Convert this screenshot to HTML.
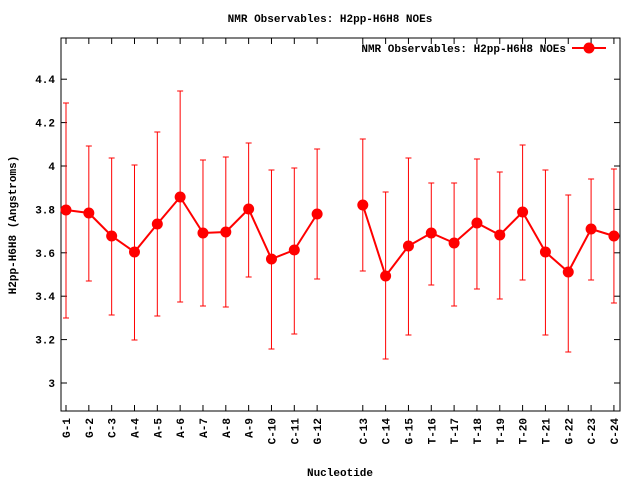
<!DOCTYPE html>
<html><head><style>
html,body{margin:0;padding:0;background:#fff;}
svg text{font-family:"Liberation Mono","DejaVu Sans Mono",monospace;font-weight:bold;font-size:11px;fill:#000;}
</style></head><body>
<svg width="640" height="480" xmlns="http://www.w3.org/2000/svg" id="s">
<rect width="640" height="480" fill="#fff"/>
<text x="330" y="22" text-anchor="middle">NMR Observables: H2pp-H6H8 NOEs</text>
<text x="340" y="476" text-anchor="middle">Nucleotide</text>
<text transform="translate(16,225) rotate(-90)" text-anchor="middle">H2pp-H6H8 (Angstroms)</text>
<g id="ax"></g>
<g id="data"></g>
<text x="566" y="52" text-anchor="end">NMR Observables: H2pp-H6H8 NOEs</text>
<line x1="572" y1="48" x2="606" y2="48" stroke="#f00" stroke-width="2"/>
<circle cx="589" cy="48" r="5.5" fill="#f00"/>
</svg>
<script>
var L=61,R=620,T=38,B=411;
var ns="http://www.w3.org/2000/svg";
function el(p,t,a,txt){var e=document.createElementNS(ns,t);for(var k in a)e.setAttribute(k,a[k]);if(txt)e.textContent=txt;p.appendChild(e);return e;}
var ax=document.getElementById('ax'),dg=document.getElementById('data');
el(ax,'rect',{x:L,y:T,width:R-L,height:B-T,fill:'none',stroke:'#000','stroke-width':1});
function Y(v){return 383-(v-3)*217;}
[3,3.2,3.4,3.6,3.8,4,4.2,4.4].forEach(function(v){var y=Y(v);
el(ax,'line',{x1:L,y1:y,x2:L+6,y2:y,stroke:'#000'});el(ax,'line',{x1:R-6,y1:y,x2:R,y2:y,stroke:'#000'});
el(ax,'text',{x:55,y:y+4,'text-anchor':'end'},(Math.round(v*10)/10).toString());});
var labs=["G-1","G-2","C-3","A-4","A-5","A-6","A-7","A-8","A-9","C-10","C-11","G-12","","C-13","C-14","G-15","T-16","T-17","T-18","T-19","T-20","T-21","G-22","C-23","C-24"];
var v=[210,213,236,252,224,197,233,232,209,259,250,214,null,205,276,246,233,243,223,235,212,252,272,229,236];
var hi=[103,146,158,165,132,91,160,157,143,170,168,149,null,139,192,158,183,183,159,172,145,170,195,179,169];
var lo=[318,281,315,340,316,302,306,307,277,349,334,279,null,271,359,335,285,306,289,299,280,335,352,280,303];
function X(i){return 66+i*22.83;}
labs.forEach(function(l,i){if(!l)return;var x=X(i);
el(ax,'line',{x1:x,y1:B,x2:x,y2:B-6,stroke:'#000'});el(ax,'line',{x1:x,y1:T,x2:x,y2:T+6,stroke:'#000'});
el(ax,'text',{transform:'translate('+(x+4)+',418) rotate(-90)','text-anchor':'end'},l);});
for(var i=0;i<v.length;i++){if(v[i]==null)continue;var x=X(i);
el(dg,'line',{x1:x,y1:hi[i],x2:x,y2:lo[i],stroke:'#f00'});
el(dg,'line',{x1:x-3,y1:hi[i],x2:x+3,y2:hi[i],stroke:'#f00'});
el(dg,'line',{x1:x-3,y1:lo[i],x2:x+3,y2:lo[i],stroke:'#f00'});}
var p1=[],p2=[];
for(var i=0;i<v.length;i++){if(v[i]==null)continue;(i<12?p1:p2).push(X(i)+','+v[i]);}
[p1,p2].forEach(function(p){el(dg,'polyline',{points:p.join(' '),fill:'none',stroke:'#f00','stroke-width':2});});
for(var i=0;i<v.length;i++){if(v[i]==null)continue;el(dg,'circle',{cx:X(i),cy:v[i],r:5.5,fill:'#f00'});}
</script>
</body></html>
